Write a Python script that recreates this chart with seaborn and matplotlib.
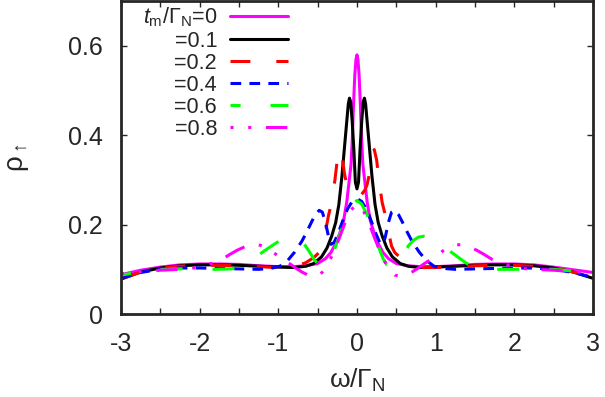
import matplotlib
matplotlib.use("Agg")
import matplotlib.pyplot as plt
import seaborn as sns

# omega / Gamma_N and rho_up, one pair per t_m/Gamma_N value
x_t00 = [-3, -2.75, -2.5, -2.25, -2, -1.75, -1.5, -1.25, -1, -0.8, -0.65, -0.5, -0.4, -0.33,
         -0.27, -0.22, -0.17, -0.13, -0.104, -0.075, -0.06, -0.045, -0.027, -0.012, 0,
         0.012, 0.027, 0.045, 0.06, 0.075, 0.104, 0.13, 0.17, 0.22, 0.27, 0.33, 0.4, 0.5,
         0.65, 0.8, 1, 1.25, 1.5, 1.75, 2, 2.25, 2.5, 2.75, 3]
y_t00 = [0.088, 0.098, 0.105, 0.110, 0.112, 0.112, 0.111, 0.108, 0.106, 0.106, 0.108, 0.113,
         0.124, 0.138, 0.158, 0.18, 0.209, 0.25, 0.29, 0.335, 0.387, 0.462, 0.536, 0.57, 0.58,
         0.57, 0.536, 0.462, 0.387, 0.335, 0.29, 0.25, 0.209, 0.18, 0.158, 0.138, 0.124, 0.113,
         0.108, 0.106, 0.106, 0.108, 0.111, 0.112, 0.112, 0.110, 0.105, 0.099, 0.093]

x_t01 = [-3, -2.75, -2.5, -2.25, -2, -1.75, -1.5, -1.25, -1, -0.8, -0.65, -0.55, -0.45, -0.38,
         -0.32, -0.27, -0.23, -0.19, -0.16, -0.13, -0.11, -0.095, -0.08, -0.06, -0.04, -0.02, 0,
         0.02, 0.04, 0.06, 0.08, 0.095, 0.11, 0.13, 0.16, 0.19, 0.23, 0.27, 0.32, 0.38, 0.45,
         0.55, 0.65, 0.8, 1, 1.25, 1.5, 1.75, 2, 2.25, 2.5, 2.75, 3]
y_t01 = [0.078, 0.094, 0.103, 0.108, 0.110, 0.110, 0.109, 0.107, 0.105, 0.104, 0.107, 0.113,
         0.128, 0.148, 0.175, 0.205, 0.245, 0.31, 0.37, 0.43, 0.47, 0.483, 0.475, 0.43, 0.37,
         0.295, 0.28,
         0.295, 0.37, 0.43, 0.475, 0.483, 0.47, 0.43, 0.37, 0.31, 0.245, 0.205, 0.175, 0.148,
         0.128, 0.113, 0.107, 0.104, 0.105, 0.107, 0.109, 0.110, 0.110, 0.108, 0.103, 0.094, 0.080]

x_t02 = [-3, -2.75, -2.5, -2.25, -2, -1.75, -1.5, -1.25, -1, -0.85, -0.75, -0.65, -0.55, -0.48,
         -0.44, -0.40, -0.36, -0.32, -0.28, -0.25, -0.22, -0.19, -0.16, -0.13, -0.1, -0.06, -0.03, 0,
         0.03, 0.06, 0.1, 0.13, 0.16, 0.19, 0.22, 0.25, 0.28, 0.32, 0.36, 0.40, 0.44, 0.48, 0.55,
         0.65, 0.75, 0.85, 1, 1.25, 1.5, 1.75, 2, 2.25, 2.5, 2.75, 3]
y_t02 = [0.079, 0.094, 0.103, 0.107, 0.109, 0.109, 0.108, 0.106, 0.104, 0.104, 0.108, 0.115,
         0.126, 0.138, 0.152, 0.185, 0.222, 0.25, 0.30, 0.345, 0.368, 0.355, 0.315, 0.29, 0.277,
         0.268, 0.27, 0.272,
         0.27, 0.268, 0.277, 0.29, 0.315, 0.355, 0.368, 0.345, 0.30, 0.25, 0.222, 0.185, 0.152,
         0.138, 0.126, 0.115, 0.108, 0.104, 0.104, 0.106, 0.108, 0.109, 0.109, 0.107, 0.103,
         0.094, 0.080]

x_t04 = [-3, -2.75, -2.5, -2.25, -2, -1.75, -1.5, -1.25, -1.1, -0.98, -0.88, -0.79, -0.7, -0.64,
         -0.58, -0.53, -0.48, -0.44, -0.4, -0.36, -0.33, -0.29, -0.24, -0.18, -0.12, -0.06, 0,
         0.06, 0.12, 0.18, 0.24, 0.29, 0.33, 0.36, 0.4, 0.44, 0.48, 0.53, 0.58, 0.64, 0.7, 0.79,
         0.88, 0.98, 1.1, 1.25, 1.5, 1.75, 2, 2.25, 2.5, 2.75, 3]
y_t04 = [0.08, 0.093, 0.1, 0.103, 0.103, 0.102, 0.101, 0.1, 0.102, 0.107, 0.12, 0.139, 0.163,
         0.183, 0.205, 0.222, 0.232, 0.228, 0.205, 0.172, 0.156, 0.16, 0.18, 0.209, 0.235, 0.252,
         0.258,
         0.252, 0.235, 0.209, 0.18, 0.16, 0.156, 0.172, 0.205, 0.228, 0.232, 0.222, 0.205, 0.183,
         0.163, 0.139, 0.12, 0.107, 0.102, 0.1, 0.101, 0.102, 0.103, 0.103, 0.1, 0.093, 0.082]

x_t06 = [-3, -2.75, -2.5, -2.25, -2, -1.8, -1.6, -1.47, -1.38, -1.28, -1.18, -1.08, -1.0, -0.92,
         -0.85, -0.78, -0.72, -0.66, -0.6, -0.54, -0.48, -0.43, -0.38, -0.33, -0.27, -0.2, -0.13,
         -0.06, 0,
         0.06, 0.13, 0.2, 0.27, 0.33, 0.38, 0.43, 0.48, 0.54, 0.6, 0.66, 0.72, 0.78, 0.85, 0.92,
         1.0, 1.08, 1.18, 1.28, 1.38, 1.47, 1.6, 1.8, 2, 2.25, 2.5, 2.75, 3]
y_t06 = [0.087, 0.095, 0.1, 0.101, 0.1, 0.1, 0.101, 0.106, 0.115, 0.128, 0.141, 0.153, 0.162,
         0.17, 0.174, 0.172, 0.165, 0.154, 0.138, 0.121, 0.109, 0.106, 0.11, 0.125, 0.152, 0.187,
         0.222, 0.246, 0.254,
         0.246, 0.222, 0.187, 0.152, 0.125, 0.11, 0.106, 0.109, 0.121, 0.138, 0.154, 0.165,
         0.172, 0.174, 0.17, 0.162, 0.153, 0.141, 0.128, 0.115, 0.106, 0.101, 0.1, 0.1, 0.101,
         0.1, 0.096, 0.09]

x_t08 = [-3, -2.75, -2.5, -2.25, -2.1, -1.95, -1.82, -1.72, -1.62, -1.52, -1.42, -1.32, -1.25,
         -1.18, -1.1, -1.0, -0.92, -0.85, -0.78, -0.7, -0.62, -0.55, -0.48, -0.42, -0.36, -0.3,
         -0.22, -0.15, -0.08, 0,
         0.08, 0.15, 0.22, 0.3, 0.36, 0.42, 0.48, 0.55, 0.62, 0.7, 0.78, 0.85, 0.92, 1.0, 1.1,
         1.18, 1.25, 1.32, 1.42, 1.52, 1.62, 1.72, 1.82, 1.95, 2.1, 2.25, 2.5, 2.75, 3]
y_t08 = [0.09, 0.095, 0.098, 0.1, 0.102, 0.108, 0.115, 0.122, 0.133, 0.143, 0.151, 0.155, 0.155,
         0.151, 0.142, 0.13, 0.12, 0.112, 0.103, 0.094, 0.087, 0.085, 0.087, 0.097, 0.115, 0.137,
         0.172, 0.205, 0.232, 0.246,
         0.232, 0.205, 0.172, 0.137, 0.115, 0.097, 0.087, 0.085, 0.087, 0.094, 0.103, 0.112,
         0.12, 0.13, 0.142, 0.151, 0.155, 0.155, 0.151, 0.143, 0.133, 0.122, 0.115, 0.108,
         0.102, 0.1, 0.098, 0.095, 0.092]

labels = [r"$t_\mathrm{m}/\Gamma_\mathrm{N}$=0", "=0.1", "=0.2", "=0.4", "=0.6", "=0.8"]
colors = ["#ff00ff", "#000000", "#ff0000", "#0000ff", "#00ff00", "#ff00ff"]
# gnuplot-like dash patterns (units of line width)
styles = ["-", "-", (0, (6.5, 8.5)), (0, (3.5, 2.7)), (3.9, (7.2, 9.8)),
          (0, (1, 4.8, 1, 4.8, 7, 4.8))]

sns.set_theme(style="ticks")
plt.rcParams["font.family"] = ["Liberation Sans", "DejaVu Sans"]
plt.rcParams["mathtext.fontset"] = "custom"
plt.rcParams["mathtext.rm"] = "Liberation Sans"
plt.rcParams["mathtext.it"] = "Liberation Sans:italic"
plt.rcParams["axes.unicode_minus"] = False

fig = plt.figure(figsize=(6.05, 3.97), dpi=100)
ax = fig.add_axes([0.2, 0.209, 0.78, 0.788])

series = [(x_t00, y_t00), (x_t01, y_t01), (x_t02, y_t02),
          (x_t04, y_t04), (x_t06, y_t06), (x_t08, y_t08)]
for (xs, ys), lab, col, ls in zip(series, labels, colors, styles):
    sns.lineplot(x=xs, y=ys, ax=ax, color=col, linestyle=ls, linewidth=2.2,
                 sort=False, estimator=None, label=lab)

ax.set_xlim(-3, 3)
ax.set_ylim(0, 0.7)
ax.set_xticks([-3, -2, -1, 0, 1, 2, 3])
ax.set_xticks([-2.5, -1.5, -0.5, 0.5, 1.5, 2.5], minor=True)
ax.set_yticks([0, 0.2, 0.4, 0.6])
ax.set_yticklabels(["0", "0.2", "0.4", "0.6"])
ax.tick_params(which="both", direction="in", top=True, right=True,
               length=4, width=1, labelsize=18, pad=13)
for sp in ax.spines.values():
    sp.set_linewidth(2)

ax.set_xlabel(r"$\mathrm{\omega/\Gamma_N}$", fontsize=19, labelpad=8)
ax.set_ylabel(r"$\mathrm{\rho_\uparrow}$", fontsize=20, labelpad=27)

ax.legend(loc="upper right", bbox_to_anchor=(0.354, 0.985), frameon=False,
          markerfirst=False, fontsize=15.5, handlelength=2.7, handletextpad=0.6,
          labelspacing=0.05, borderpad=0, borderaxespad=0)

fig.savefig("out.png", dpi=100)
